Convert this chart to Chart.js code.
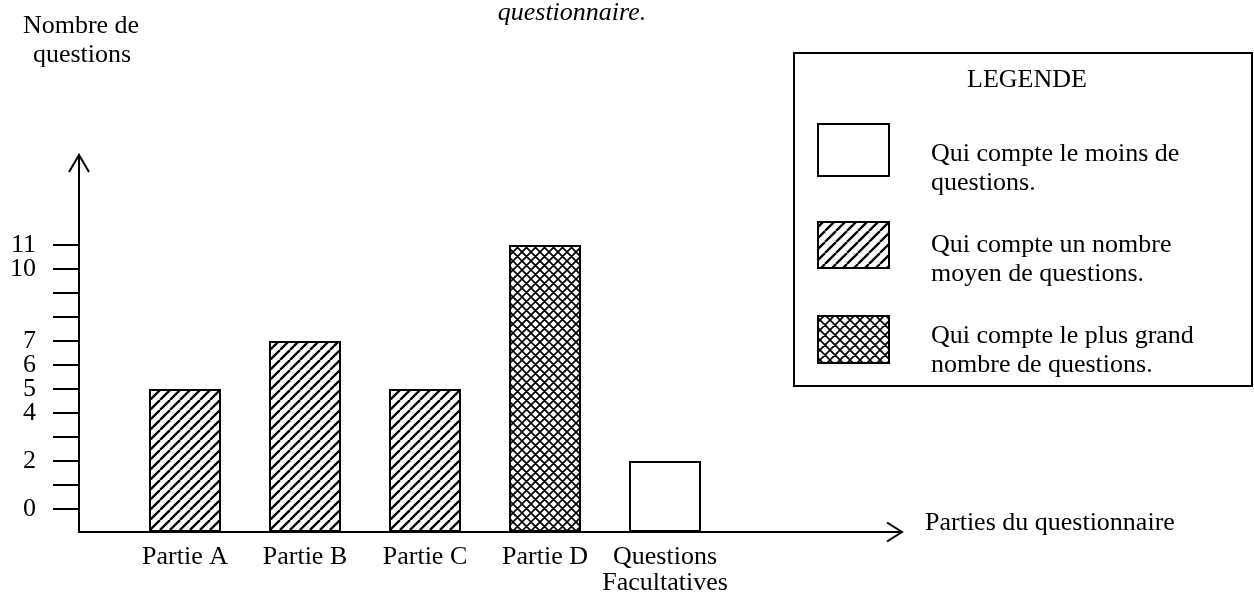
<!DOCTYPE html>
<html>
<head>
<meta charset="utf-8">
<script src="https://cdn.jsdelivr.net/npm/chart.js@4/dist/chart.umd.min.js"></script>
<style>
  html, body { margin: 0; padding: 0; background: #fff; }
  #wrap { width: 1254px; height: 600px; position: relative; }
</style>
</head>
<body>
<div id="wrap"><canvas id="c" width="1254" height="600"></canvas></div>
<script>
// ---- Data ----
const categories = ['Partie A', 'Partie B', 'Partie C', 'Partie D', ['Questions', 'Facultatives']];
const questionCounts = [5, 7, 5, 11, 2];
const categoryClass = [1, 1, 1, 2, 0];
const legendTitle = 'LEGENDE';
const legendLabels = [
  ['Qui compte le moins de', 'questions.'],
  ['Qui compte un nombre', 'moyen de questions.'],
  ['Qui compte le plus grand', 'nombre de questions.']
];
const yTickMarks = [0, 1, 2, 3, 4, 5, 6, 7, 8, 9, 10, 11];
const yTickLabels = [0, 2, 4, 5, 6, 7, 10, 11];
const yAxisTitle = ['Nombre de', 'questions'];
const xAxisTitle = 'Parties du questionnaire';
const topText = 'questionnaire.';

// ---- Styling / layout ----
const FONT = "'Liberation Serif', 'Times New Roman', serif";
const FS = 26;
const AXIS_MIN = -0.958;
const AXIS_MAX = 14.75;
const BAR_LEFT = 125, BAR_RIGHT = 725;

function makePattern(size, lw, cross) {
  const c = document.createElement('canvas');
  c.width = size; c.height = size;
  const g = c.getContext('2d');
  g.fillStyle = '#fff';
  g.fillRect(0, 0, size, size);
  g.strokeStyle = '#000';
  g.lineWidth = lw;
  g.beginPath();
  for (let k = -1; k <= 1; k++) {
    g.moveTo(k * size, size); g.lineTo(k * size + size, 0);
    if (cross) { g.moveTo(k * size, 0); g.lineTo(k * size + size, size); }
  }
  g.stroke();
  return g.createPattern(c, 'repeat');
}
const classFills = ['#ffffff', makePattern(10, 2.3, false), makePattern(9, 1.7, true)];
const legendFills = ['#ffffff', makePattern(11, 2.3, false), makePattern(10, 1.7, true)];

Chart.defaults.font.family = FONT;
Chart.defaults.font.size = FS;
Chart.defaults.color = '#000';

const decorPlugin = {
  id: 'decor',
  afterLayout(chart) {
    const xs = chart.scales.x;
    xs.left = BAR_LEFT; xs.right = BAR_RIGHT; xs.width = BAR_RIGHT - BAR_LEFT;
    xs.configure();
  },
  afterDraw(chart) {
    const ctx = chart.ctx;
    const a = chart.chartArea;
    ctx.save();
    ctx.strokeStyle = '#000';
    ctx.lineWidth = 2;
    // x axis line with arrow
    ctx.beginPath();
    ctx.moveTo(a.left, a.bottom);
    ctx.lineTo(a.right, a.bottom);
    ctx.moveTo(a.right - 15, a.bottom - 9.5);
    ctx.lineTo(a.right, a.bottom);
    ctx.lineTo(a.right - 15, a.bottom + 9.5);
    ctx.stroke();
    // y axis arrow
    ctx.beginPath();
    ctx.moveTo(a.left - 10, a.top + 17);
    ctx.lineTo(a.left, a.top);
    ctx.lineTo(a.left + 10, a.top + 17);
    ctx.stroke();

    // texts
    ctx.fillStyle = '#000';
    ctx.textBaseline = 'alphabetic';
    ctx.font = FS + 'px ' + FONT;
    ctx.textAlign = 'center';
    ctx.fillText(yAxisTitle[0], 81, 33);
    ctx.fillText(yAxisTitle[1], 82, 62);
    ctx.textAlign = 'left';
    ctx.fillText(xAxisTitle, 925, 530);
    ctx.font = 'italic ' + FS + 'px ' + FONT;
    ctx.textAlign = 'center';
    ctx.fillText(topText, 572, 20);

    // legend
    ctx.font = FS + 'px ' + FONT;
    ctx.lineWidth = 2;
    ctx.strokeRect(794, 53, 458, 333);
    ctx.textAlign = 'center';
    ctx.fillText(legendTitle, 1027, 87);
    const boxes = [[124, 52], [222, 46], [316, 47]];
    const textY = [161, 252, 343];
    ctx.textAlign = 'left';
    legendLabels.forEach((lines, i) => {
      ctx.fillStyle = legendFills[i];
      ctx.fillRect(818, boxes[i][0], 71, boxes[i][1]);
      ctx.strokeRect(818, boxes[i][0], 71, boxes[i][1]);
      ctx.fillStyle = '#000';
      lines.forEach((t, j) => ctx.fillText(t, 931, textY[i] + j * 29));
    });
    ctx.restore();
  }
};

new Chart(document.getElementById('c'), {
  type: 'bar',
  data: {
    labels: categories,
    datasets: [{
      data: questionCounts,
      base: AXIS_MIN,
      backgroundColor: categoryClass.map(k => classFills[k]),
      borderColor: '#000',
      borderWidth: 2,
      borderSkipped: false,
      barPercentage: 0.6,
      categoryPercentage: 1.0
    }]
  },
  options: {
    responsive: false,
    animation: false,
    devicePixelRatio: 1,
    layout: { padding: { left: 0, top: 155, right: 352, bottom: 0 } },
    plugins: { legend: { display: false }, tooltip: { enabled: false }, title: { display: false } },
    scales: {
      x: {
        type: 'category',
        grid: { display: false, drawTicks: false },
        border: { display: false },
        ticks: { padding: 13, maxRotation: 0, autoSkip: false, font: { size: FS, lineHeight: 0.97 } },
        afterFit(s) { s.height = 68; }
      },
      y: {
        min: AXIS_MIN,
        max: AXIS_MAX,
        grid: { display: true, drawOnChartArea: false, drawTicks: true, tickLength: 26, color: '#000', lineWidth: 2 },
        border: { display: true, color: '#000', width: 2 },
        ticks: {
          autoSkip: false,
          padding: 17,
          font: { size: FS, lineHeight: 1.0 },
          callback: (v) => yTickLabels.includes(v) ? String(v) : ''
        },
        afterBuildTicks(s) { s.ticks = yTickMarks.map(v => ({ value: v })); },
        afterFit(s) { s.width = 79; }
      }
    }
  },
  plugins: [decorPlugin]
});
</script>
</body>
</html>
